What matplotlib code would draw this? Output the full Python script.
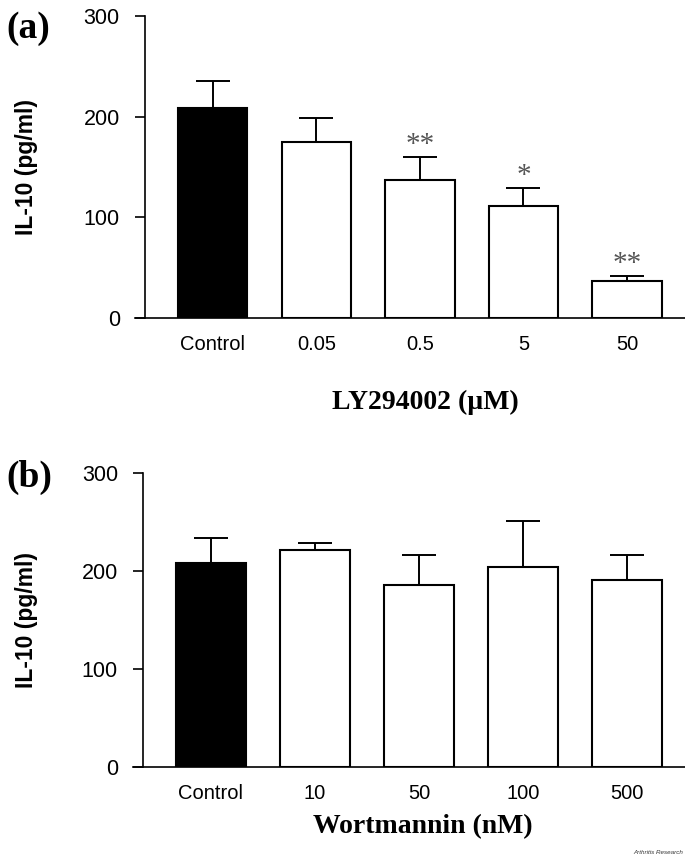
"""
IL-10 production under PI3K inhibitors (LY294002 and wortmannin).
"""
import matplotlib
matplotlib.use("Agg")
import matplotlib.pyplot as plt
import numpy as np

SANS = "Liberation Sans"
SERIF = "Liberation Serif"

# panel (a): LY294002
ly_labels = ["Control", "0.05", "0.5", "5", "50"]
ly_means = [209, 175, 137, 111, 37]
ly_sem = [26, 24, 23, 18, 5]
ly_stars = ["", "", "**", "*", "**"]

# panel (b): wortmannin
wm_labels = ["Control", "10", "50", "100", "500"]
wm_means = [208, 221, 186, 204, 191]
wm_sem = [26, 8, 30, 47, 25]

y_ticks = [0, 100, 200, 300]

W, H = 685, 858


def draw_panel(ax, labels, means, sem, stars=None):
    x = np.arange(len(labels))
    for side in ["top", "right"]:
        ax.spines[side].set_visible(False)
    ax.spines["left"].set_position(("data", -0.655))
    ax.spines["left"].set_linewidth(1.2)
    ax.spines["bottom"].set_linewidth(1.2)

    colors = ["black"] + ["white"] * (len(labels) - 1)
    ax.bar(x, means, width=0.67, color=colors, edgecolor="black",
           linewidth=1.5, zorder=2)
    ax.errorbar(x, means, yerr=[np.zeros(len(means)), sem], fmt="none",
                ecolor="black", elinewidth=1.4, capsize=12.5, capthick=1.4,
                zorder=1)
    if stars:
        for xi, m, e, s in zip(x, means, sem, stars):
            if s:
                ax.text(xi, m + e + 5, s, ha="center", va="baseline",
                        family=SERIF, fontsize=21, color="#555555")

    ax.set_xlim(-0.75, 4.56)
    ax.set_ylim(0, 300)
    ax.set_yticks(y_ticks)
    ax.set_xticks(x)
    ax.set_xticklabels(labels)
    ax.tick_params(axis="x", length=0, pad=12, labelsize=14.5,
                   labelfontfamily=SANS)
    ax.tick_params(axis="y", length=7, width=1.2, pad=11, labelsize=15.5,
                   labelfontfamily=SANS)


fig = plt.figure(figsize=(W / 100, H / 100), dpi=100)

ax_a = fig.add_axes([135 / W, 1 - 318 / H, 550 / W, 302 / H])
ax_b = fig.add_axes([133 / W, 1 - 767 / H, 552 / W, 294 / H])

draw_panel(ax_a, ly_labels, ly_means, ly_sem, ly_stars)
draw_panel(ax_b, wm_labels, wm_means, wm_sem)

for yc in [167, 620]:
    fig.text(26 / W, 1 - yc / H, "IL-10 (pg/ml)", rotation=90, ha="center",
             va="center", family=SANS, fontweight="bold", fontsize=16.5)

fig.text(425 / W, 1 - 402 / H, "LY294002 (\u00b5M)", ha="center", va="center",
         family=SERIF, fontweight="bold", fontsize=20)
fig.text(423 / W, 1 - 827 / H, "Wortmannin (nM)", ha="center", va="center",
         family=SERIF, fontweight="bold", fontsize=20)

fig.text(6 / W, 1 - 28 / H, "(a)", ha="left", va="center",
         family=SERIF, fontweight="bold", fontsize=27)
fig.text(6 / W, 1 - 477 / H, "(b)", ha="left", va="center",
         family=SERIF, fontweight="bold", fontsize=27)

fig.text(683 / W, 1 - 853 / H, "Arthritis Research", ha="right", va="center",
         family=SANS, style="italic", fontsize=4.5, color="#333333")

fig.savefig("out.png", dpi=100)
plt.close(fig)
